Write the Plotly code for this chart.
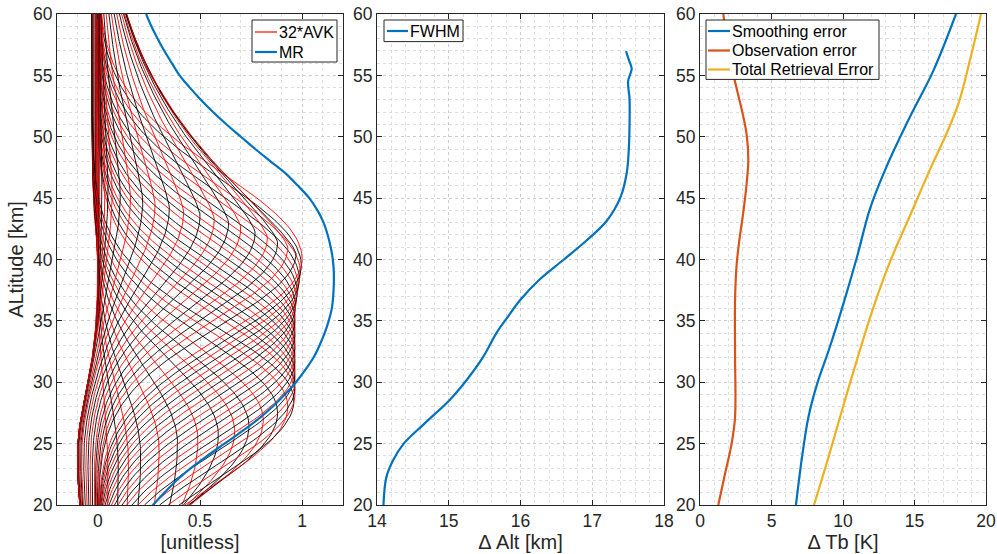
import numpy as np
import plotly.graph_objects as go

FONT = "Liberation Sans"
AX = "#262626"
BLUE, ORANGE, YELLOW = "#0072BD", "#D95319", "#EDB120"

# ---------------- averaging kernels (32*AVK), one entry per kernel row ----------------
# peak altitude [km] and peak value of each row
AVK_PEAK_ALT = [22.5, 23.0, 23.5, 24.0, 24.5, 25.0, 25.3, 25.7, 26.0, 26.4, 26.9, 27.5, 28.0, 28.5,
                29.05, 29.6, 30.15, 30.7, 31.25, 31.8, 32.35, 32.9, 33.45, 34.0, 34.55, 35.1, 35.65,
                36.2, 36.75, 37.3, 37.85, 38.4, 38.95, 39.5, 40.05,
                40.5, 41.0, 41.4, 41.8, 42.2, 42.6, 43.0, 43.3, 43.6, 43.9, 44.2, 44.5, 44.8, 45.1,
                45.4, 45.7, 46.0, 46.0, 46.0, 46.0, 46.0, 46.0]
AVK_PEAK = [0.05, 0.10, 0.15, 0.21, 0.30, 0.39, 0.49, 0.59, 0.67, 0.74, 0.81, 0.88, 0.93, 0.96,
            0.965, 0.965, 0.965, 0.965, 0.965, 0.965, 0.965, 0.965, 0.965, 0.965, 0.965, 0.965, 0.965,
            0.967, 0.972, 0.976, 0.981, 0.986, 0.991, 0.996, 1.0,
            0.97, 0.93, 0.88, 0.83, 0.77, 0.70, 0.64, 0.57, 0.50, 0.42, 0.35, 0.28, 0.22, 0.16,
            0.11, 0.07, 0.05, 0.035, 0.02, 0.01, 0.005, 0.0]
# spread below / above the peak [km]
AVK_WIDTH_LOW = [12, 12, 12, 11, 11, 10.9, 9, 6.9, 6.5, 6.4, 6.4, 6.4, 6.4, 6.4] + [6.3] * 21 + [6.0] * 22
AVK_WIDTH_HIGH = [6.0] * 14 + [6.3, 6.3, 6.4, 6.4, 6.4, 6.5, 6.5, 6.5, 6.6, 6.6, 6.7, 6.7, 6.7,
                               6.8, 6.8, 6.8, 6.9, 6.9, 6.9, 7.0, 7.0] + [7.0] * 22
# upper-side tail exponent (2 = gaussian, lower = heavier tail)
AVK_TAIL_EXP = [2.0] * 35 + [1.33] * 22
# depth of the negative lobe in the lower stratosphere
AVK_LOBE_LOW = [0.0] * 35 + [0.0, 0.0, 0.005, 0.01, 0.015, 0.02, 0.03, 0.04, 0.05, 0.06, 0.07,
                             0.08, 0.085, 0.09, 0.095, 0.1, 0.1, 0.1, 0.1, 0.1, 0.1, 0.1]
# small negative offset well above the peak
AVK_LOBE_HIGH = [0.003, 0.006, 0.009, 0.013, 0.018, 0.023, 0.029] + [0.03] * 7 + [0.0] * 43

ALT = np.arange(20, 60.001, 0.25)

def kernel_row(k):
    d = ALT - AVK_PEAK_ALT[k]
    low = np.exp(-0.5 * np.abs(d / AVK_WIDTH_LOW[k]) ** 2)
    high = np.exp(-0.5 * np.abs(d / AVK_WIDTH_HIGH[k]) ** AVK_TAIL_EXP[k])
    x = AVK_PEAK[k] * np.where(d < 0, low, high)
    lobe = np.where(ALT < 24, np.exp(-0.5 * ((ALT - 24) / 8) ** 2), np.exp(-0.5 * ((ALT - 24) / 5) ** 2))
    x = x - AVK_LOBE_LOW[k] * lobe
    x = x - AVK_LOBE_HIGH[k] / (1 + np.exp(-(d - 15) / 3))
    return x

# ---------------- measurement response ----------------
MR_ALT = [20, 21, 22, 23, 24, 25, 26, 27, 28, 29, 30, 31, 32, 33, 34, 35, 36, 37, 38, 39, 40,
          41, 42, 43, 44, 45, 46, 47, 48, 49, 50, 51, 52, 53, 54, 55, 56, 57, 58, 59, 60]
MR_VAL = [0.27, 0.325, 0.385, 0.455, 0.535, 0.62, 0.705, 0.785, 0.855, 0.915, 0.97, 1.015, 1.055,
          1.085, 1.11, 1.13, 1.145, 1.152, 1.155, 1.155, 1.15, 1.14, 1.125, 1.105, 1.075, 1.035,
          0.98, 0.92, 0.845, 0.77, 0.70, 0.63, 0.565, 0.505, 0.45, 0.40, 0.362, 0.325, 0.292,
          0.262, 0.236]

# ---------------- FWHM ----------------
FWHM_ALT = [20.0, 22.25, 23.7, 24.98, 26.57, 28.6, 30.18, 32.06, 34.07, 35.22, 36.66, 38.39, 39.98,
            41.55, 43.14, 45.02, 47.03, 49.05, 51.07, 53.08, 54.53, 55.54, 56.1, 56.98]
FWHM_VAL = [14.09, 14.13, 14.23, 14.37, 14.65, 15.02, 15.25, 15.48, 15.67, 15.81, 15.99, 16.27, 16.60,
            16.92, 17.20, 17.39, 17.48, 17.51, 17.52, 17.52, 17.50, 17.55, 17.52, 17.47]

# ---------------- retrieval errors ----------------
OBS_ALT = [20.0, 22.54, 24.98, 27.15, 32.33, 36.66, 39.55, 41.55, 43.86, 46.17, 48.19, 50.2, 51.64, 53.95, 56.25, 60.0]
OBS_VAL = [1.28, 1.75, 2.21, 2.45, 2.45, 2.45, 2.56, 2.75, 3.03, 3.26, 3.38, 3.26, 3.03, 2.56, 2.10, 1.63]
SMO_ALT = [20.0, 23.7, 27.15, 29.74, 32.91, 36.37, 40.12, 44.15, 47.61, 51.64, 55.39, 60.0]
SMO_VAL = [6.71, 7.11, 7.58, 8.16, 9.09, 10.02, 10.96, 11.89, 13.06, 14.69, 16.32, 17.90]
TOT_ALT = [20.0, 23.4, 27.15, 31.76, 36.08, 39.83, 43.58, 47.32, 50.2, 52.8, 56.25, 60.0]
TOT_VAL = [7.97, 8.86, 9.79, 10.96, 12.12, 13.29, 14.69, 16.08, 17.22, 18.1, 18.88, 19.65]

fig = go.Figure()
for k in range(len(AVK_PEAK)):
    fig.add_trace(go.Scatter(x=kernel_row(k), y=ALT, mode="lines",
                             line=dict(color="#ff0000" if k % 2 == 0 else "#000000", width=0.9),
                             name="32*AVK", showlegend=False, hoverinfo="skip"))
fig.add_trace(go.Scatter(x=MR_VAL, y=MR_ALT, mode="lines", line=dict(color=BLUE, width=2.2, shape="spline"),
                         name="MR", showlegend=False))
fig.add_trace(go.Scatter(x=FWHM_VAL, y=FWHM_ALT, mode="lines", line=dict(color=BLUE, width=2.2, shape="spline"),
                         name="FWHM", xaxis="x2", yaxis="y2", showlegend=False))
fig.add_trace(go.Scatter(x=SMO_VAL, y=SMO_ALT, mode="lines", line=dict(color=BLUE, width=2.2, shape="spline"),
                         name="Smoothing error", xaxis="x3", yaxis="y3", showlegend=False))
fig.add_trace(go.Scatter(x=OBS_VAL, y=OBS_ALT, mode="lines", line=dict(color=ORANGE, width=2.2, shape="spline"),
                         name="Observation error", xaxis="x3", yaxis="y3", showlegend=False))
fig.add_trace(go.Scatter(x=TOT_VAL, y=TOT_ALT, mode="lines", line=dict(color=YELLOW, width=2.2, shape="spline"),
                         name="Total Retrieval Error", xaxis="x3", yaxis="y3", showlegend=False))

W, H = 997, 554
def px(v):
    return v / W
def py(v):
    return 1 - v / H

GRID = "#cdcdcd"
MINOR = "#dedede"
ydom = [py(505), py(14)]
def xa(dom, rng, dtick, minor, title, anchor):
    return dict(domain=dom, range=rng, dtick=dtick, tick0=0, anchor=anchor, automargin=False,
                showline=True, linecolor=AX, linewidth=1,
                mirror="ticks", ticks="inside", ticklen=5, tickcolor=AX,
                showgrid=True, gridcolor=GRID, gridwidth=1, griddash="dot",
                zeroline=False, tickfont=dict(family=FONT, size=17.5, color=AX),
                minor=dict(dtick=minor, showgrid=True, gridcolor=MINOR, griddash="dot", gridwidth=1),
                title=dict(text=title, font=dict(family=FONT, size=20, color=AX), standoff=0))
def ya(anchor, title=None):
    return dict(domain=ydom, range=[20, 60], dtick=5, anchor=anchor, automargin=False,
                showline=True, linecolor=AX, linewidth=1,
                mirror="ticks", ticks="inside", ticklen=5, tickcolor=AX,
                showgrid=True, gridcolor=GRID, gridwidth=1, griddash="dot",
                zeroline=False, tickfont=dict(family=FONT, size=17.5, color=AX),
                minor=dict(dtick=1, showgrid=True, gridcolor=MINOR, griddash="dot", gridwidth=1),
                title=dict(text=title or "", font=dict(family=FONT, size=20, color=AX), standoff=4))

# legend boxes: (box left, right, top, bottom, line start, line end, entries[(label, colour, width, row y)])
LEGENDS = [
    (252, 337, 20, 62, 255, 277, [("32*AVK", "#ff4040", 1.6, 32), ("MR", BLUE, 2.2, 52)]),
    (384, 463, 20, 41.6, 387, 408, [("FWHM", BLUE, 2.2, 31)]),
    (706, 879, 20, 79.4, 708, 730, [("Smoothing error", BLUE, 2.2, 31),
                                    ("Observation error", ORANGE, 2.2, 50.5),
                                    ("Total Retrieval Error", YELLOW, 2.2, 69.5)]),
]
shapes, annotations = [], []
for x0, x1, y0, y1, l0, l1, entries in LEGENDS:
    shapes.append(dict(type="rect", xref="paper", yref="paper", x0=px(x0), x1=px(x1), y0=py(y1), y1=py(y0),
                       line=dict(color=AX, width=1), fillcolor="white", layer="above"))
    for label, color, width, yrow in entries:
        shapes.append(dict(type="line", xref="paper", yref="paper", x0=px(l0), x1=px(l1), y0=py(yrow), y1=py(yrow),
                           line=dict(color=color, width=width), layer="above"))
        annotations.append(dict(text=label, xref="paper", yref="paper", x=px(l1 + 1), y=py(yrow),
                                xanchor="left", yanchor="middle", showarrow=False, borderpad=0,
                                font=dict(family=FONT, size=16, color="#000000")))

fig.update_layout(
    width=W, height=H, margin=dict(l=0, r=0, t=0, b=0, autoexpand=False),
    paper_bgcolor="white", plot_bgcolor="white", showlegend=False,
    xaxis=xa([px(57), px(343)], [-0.2, 1.2], 0.5, 0.1, "[unitless]", "y"),
    yaxis=ya("x", "ALtitude [km]"),
    xaxis2=xa([px(377), px(664)], [14, 18], 1, 0.2, "\u0394 Alt [km]", "y2"),
    yaxis2=ya("x2"),
    xaxis3=xa([px(700), px(986)], [0, 20], 5, 1, "\u0394 Tb [K]", "y3"),
    yaxis3=ya("x3"),
    shapes=shapes, annotations=annotations,
)
fig.write_html("out.html")
